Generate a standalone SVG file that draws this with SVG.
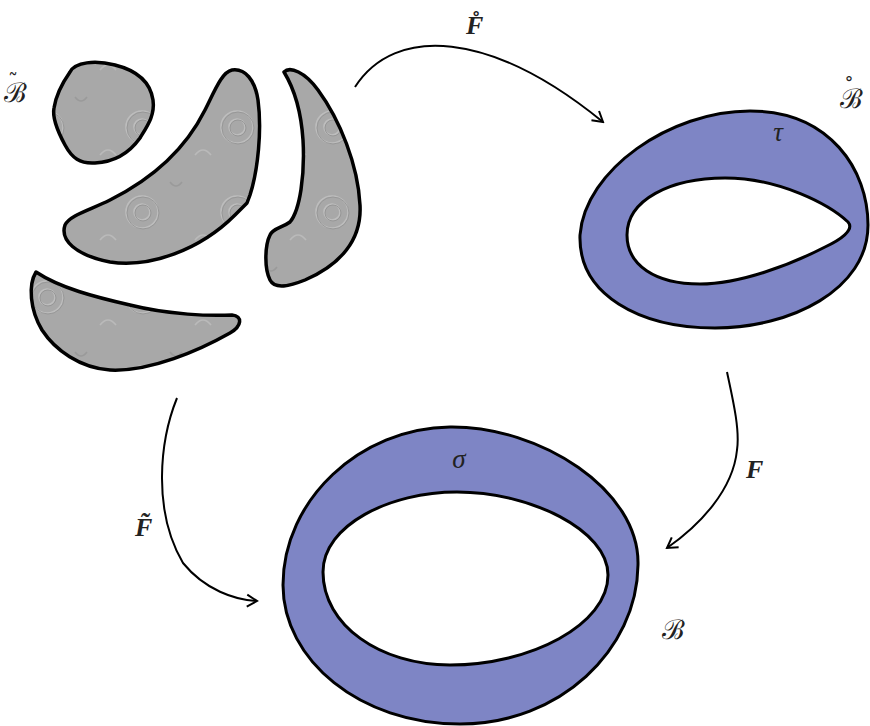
<svg xmlns="http://www.w3.org/2000/svg" width="870" height="726" viewBox="0 0 870 726">
<style>
.blob{fill:url(#tex);stroke:#000;stroke-width:3.5;stroke-linejoin:round}
.ring{fill:#7e85c5;fill-rule:evenodd;stroke:#000;stroke-width:3}
.conn{fill:none;stroke:#000;stroke-width:2;marker-end:url(#ah)}
.scr{font-family:"DejaVu Serif",serif;font-size:27px;fill:#222}
.acc{font-family:"DejaVu Serif",serif;font-size:20px}
.gr{font-family:"Liberation Serif","DejaVu Serif",serif;font-style:italic;font-size:27px;fill:#222}
.fn{font-family:"Liberation Serif","DejaVu Serif",serif;font-style:italic;font-weight:bold;font-size:26px;fill:#222}
</style>
<defs>
<pattern id="tex" patternUnits="userSpaceOnUse" width="95" height="85">
<rect width="95" height="85" fill="#a8a8a8"/>
<g fill="none" stroke-width="1.6">
<circle cx="47" cy="42" r="16" stroke="#bdbdbd"/>
<circle cx="48" cy="43" r="16" stroke="#979797" stroke-width="1"/>
<circle cx="47" cy="42" r="8" stroke="#bebebe"/>
<circle cx="48" cy="43" r="8" stroke="#969696" stroke-width="1"/>
<path d="M5,70 q8,-10 16,0" stroke="#bababa"/>
<path d="M75,12 q6,8 12,0" stroke="#9a9a9a"/>
</g>
</pattern>
<marker id="ah" viewBox="-12 -8 14 16" markerWidth="14" markerHeight="16" refX="0" refY="0" orient="auto" markerUnits="userSpaceOnUse">
<path d="M-10,-6 L0,0 L-10,6" fill="none" stroke="#000" stroke-width="2"/>
</marker>
</defs>
<rect width="870" height="726" fill="#fff"/>

<g id="Btilde">
<path class="blob" d="M70,72 C75,62 95,60 115,65 C135,70 150,80 153,100 C155,115 148,125 140,138 C130,152 115,162 95,163 C80,164 72,158 65,145 C58,132 52,118 54,108 C56,95 63,82 70,72 Z"/>
<path class="blob" d="M65,225 C60,240 75,255 110,262 C150,268 200,250 235,215 L243,207 L247,203 L250,195 C258,170 262,130 258,100 C255,80 245,68 232,70 C222,72 215,90 205,110 C185,150 150,180 110,200 C90,210 70,215 65,225 Z"/>
<path class="blob" d="M284,72 C290,66 305,72 318,90 C340,120 358,165 360,205 C362,240 340,265 305,280 C290,286 275,290 270,280 C264,268 265,245 270,235 C273,228 282,228 290,222 C300,210 305,175 303,140 C301,110 295,90 284,72 Z"/>
<path class="blob" d="M36,272 C28,285 30,310 42,330 C55,350 80,368 110,370 C150,372 200,350 230,333 C242,326 243,316 232,315 C210,316 170,315 130,305 C95,297 60,288 36,272 Z"/>
<text class="scr" x="4" y="102">ℬ<tspan class="acc" dx="-19" dy="-14">˜</tspan></text>
</g>

<g id="Bring">
<path class="ring" d="M580,235 C585,170 670,111 750,111 C830,111 868,170 868,225 C868,290 790,328 715,328 C640,328 578,295 580,235 Z M627,235 C627,200 670,178 725,178 C780,178 830,205 848,222 C855,230 840,240 825,247 C790,265 740,284 700,284 C655,284 627,265 627,235 Z"/>
<text class="gr" x="778" y="141" text-anchor="middle">τ</text>
<text class="scr" x="840" y="108">ℬ<tspan class="acc" dx="-19" dy="-14">˚</tspan></text>
</g>

<g id="B">
<path class="ring" d="M283,585 C283,500 360,428 450,427 C540,426 640,490 638,565 C637,650 560,724 460,724 C360,724 283,660 283,585 Z M323,572 C323,525 390,492 457,492 C530,492 608,530 608,575 C608,625 530,665 450,665 C380,665 323,625 323,572 Z"/>
<text class="gr" x="459" y="468" text-anchor="middle">σ</text>
<text class="scr" x="662" y="639">ℬ</text>
</g>

<g id="connectors">
<path class="conn" d="M355,87 C395,25 490,30 603,122"/>
<path class="conn" d="M727,372 C733,400 740,430 737,450 C733,490 700,525 667,548"/>
<path class="conn" d="M177,398 C160,440 152,510 183,563 C205,590 235,600 257,601"/>
<text class="fn" x="466" y="34">F̊</text>
<text class="fn" x="746" y="478">F</text>
<text class="fn" x="135" y="536">F̃</text>
</g>
</svg>
